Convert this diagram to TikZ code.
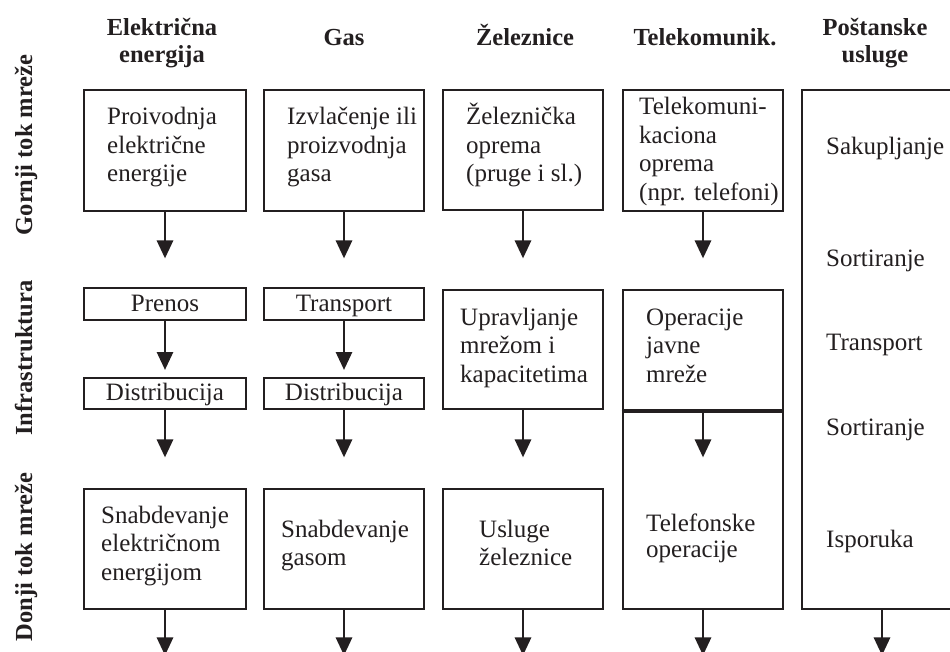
\documentclass[tikz,border=0pt]{standalone}
\usepackage{fontspec}
\setmainfont{Liberation Serif}
\usetikzlibrary{arrows.meta,fit}
\definecolor{ink}{HTML}{231F20}
\newcommand{\mlL}[1]{\begin{tabular}[t]{@{}l@{}}#1\end{tabular}}
\newcommand{\mlC}[1]{\begin{tabular}[t]{@{}c@{}}#1\end{tabular}}
\tikzset{
  box/.style={draw=ink, line width=2.9pt, inner sep=0pt, fill=white},
  body/.style={text=ink, inner sep=0pt, font=\fontsize{25}{28.5}\selectfont},
  bodyL/.style={body, anchor=base west},
  bodyC/.style={body, anchor=base},
  head/.style={text=ink, inner sep=0pt, anchor=base, font=\fontsize{24.5}{27}\selectfont\bfseries},
  side/.style={text=ink, inner sep=0pt, anchor=base, rotate=90, font=\fontsize{24.5}{27}\selectfont\bfseries},
  arr/.style={draw=ink, line width=2.9pt, -{Triangle[width=16pt,length=18pt]}}
}
\begin{document}
\begin{tikzpicture}[x=1pt,y=-1pt]
\useasboundingbox (0,0) rectangle (950,652);

% column headings
\node[head] (h1) at (162,36) {\mlC{Električna\\energija}};
\node[head] (h2) at (344,46) {Gas};
\node[head] (h3) at (525,46) {Železnice};
\node[head] (h4) at (705,46) {Telekomunik.};
\node[head] (h5) at (875,36) {\mlC{Poštanske\\usluge}};

% row labels
\node[side] (r1) at (32,145) {Gornji tok mreže};
\node[side] (r2) at (32,358) {Infrastruktura};
\node[side] (r3) at (32,557) {Donji tok mreže};

% boxes
\node[box, fit={(84,90) (246,211)}] (e1) {};
\node[box, fit={(264,90) (424,211)}] (g1) {};
\node[box, fit={(443,90) (603,210)}] (z1) {};
\node[box, fit={(623,90) (783,211)}] (t1) {};
\node[box, fit={(802,90) (975,609)}] (p1) {};

\node[box, fit={(84,288) (246,320)}] (e2) {};
\node[box, fit={(264,288) (424,320)}] (g2) {};
\node[box, fit={(84,378) (246,409)}] (e3) {};
\node[box, fit={(264,378) (424,409)}] (g3) {};
\node[box, fit={(443,290) (603,409)}] (z2) {};
\node[box, fit={(623,290) (783,410)}] (t2) {};

\node[box, fit={(84,489) (246,609)}] (e4) {};
\node[box, fit={(264,489) (424,609)}] (g4) {};
\node[box, fit={(443,489) (603,609)}] (z4) {};
\node[box, fit={(623,410) (783,609)}] (t4) {};
\draw[ink, line width=2.9pt] (t2.south west) -- (t2.south east);

% texts
\node[bodyL] (te1) at (107,125) {\mlL{Proivodnja\\električne\\energije}};
\node[bodyL] (tg1) at (287,125) {\mlL{Izvlačenje ili\\proizvodnja\\gasa}};
\node[bodyL] (tz1) at (466,125) {\mlL{Železnička\\oprema\\(pruge i sl.)}};
\node[bodyL] (tt1) at (639,115) {\mlL{Telekomuni-\\kaciona\\oprema\\(npr. telefoni)}};

\node[bodyC] (te2) at (165,312) {Prenos};
\node[bodyC] (tg2) at (344,312) {Transport};
\node[bodyC] (te3) at (165,400) {Distribucija};
\node[bodyC] (tg3) at (344,400) {Distribucija};
\node[bodyL] (tz2) at (460,325) {\mlL{Upravljanje\\mrežom i\\kapacitetima}};
\node[bodyL] (tt2) at (646,325) {\mlL{Operacije\\javne\\mreže}};

\node[bodyL] (te4) at (101,523) {\mlL{Snabdevanje\\električnom\\energijom}};
\node[bodyL] (tg4) at (281,537) {\mlL{Snabdevanje\\gasom}};
\node[bodyL] (tz4) at (479,537) {\mlL{Usluge\\železnice}};
\node[bodyL, font=\fontsize{25}{26.5}\selectfont] (tt4) at (646,531) {\mlL{Telefonske\\operacije}};

\node[bodyL] (tp1) at (826,155) {Sakupljanje};
\node[bodyL] (tp2) at (826,267) {Sortiranje};
\node[bodyL] (tp3) at (826,350) {Transport};
\node[bodyL] (tp4) at (826,435) {Sortiranje};
\node[bodyL] (tp5) at (826,547) {Isporuka};

% arrows
\draw[arr] (e1.south) -- ++(0,46);
\draw[arr] (g1.south) -- ++(0,46);
\draw[arr] (z1.south) -- ++(0,47);
\draw[arr] (t1.south) -- ++(0,46);
\draw[arr] (e2.south) -- (e3.north |- 0,370);
\draw[arr] (g2.south) -- (g3.north |- 0,370);
\draw[arr] (e3.south) -- ++(0,47);
\draw[arr] (g3.south) -- ++(0,47);
\draw[arr] (z2.south) -- ++(0,47);
\draw[arr] (t2.south) -- ++(0,46);
\draw[arr] (e4.south) -- ++(0,45);
\draw[arr] (g4.south) -- ++(0,45);
\draw[arr] (z4.south) -- ++(0,45);
\draw[arr] (t4.south) -- ++(0,45);
\draw[arr] (p1.south -| 882,0) -- ++(0,45);
\end{tikzpicture}
\end{document}
